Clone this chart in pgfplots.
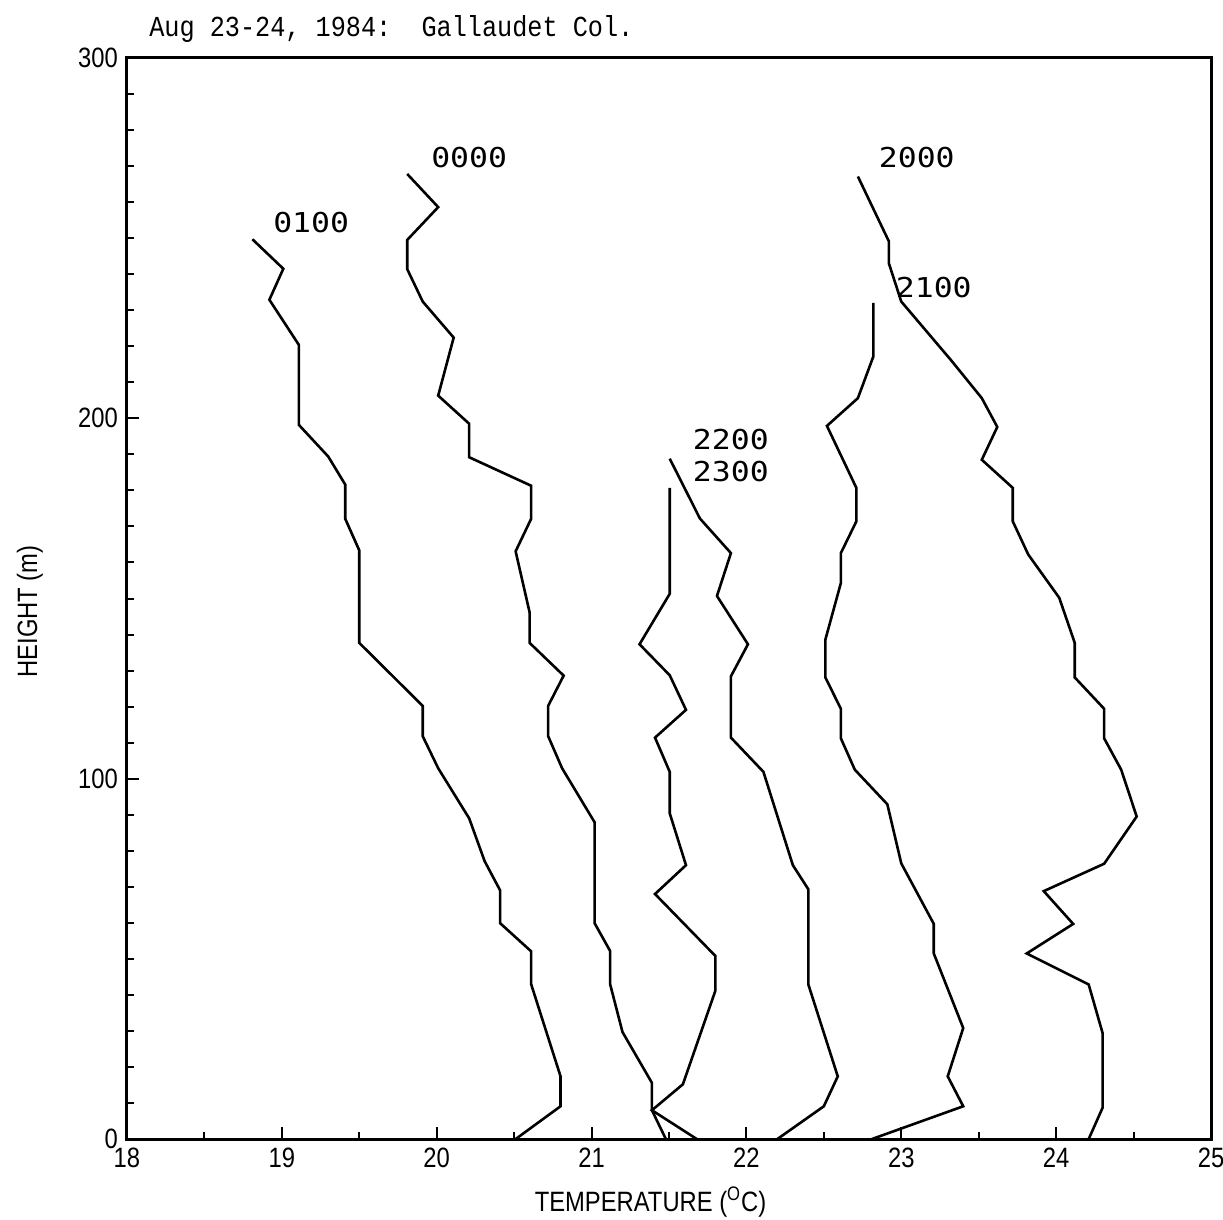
\documentclass[border=0pt]{standalone}
\usepackage{pgfplots}
\pgfplotsset{compat=1.18}
\usepackage{fontspec}
\setmainfont{Liberation Sans}
\newfontfamily\tickfont{Liberation Sans}[FakeStretch=0.85]
\newfontfamily\titlefont{Liberation Mono}[FakeStretch=0.87]
\newfontfamily\curvefont{DejaVu Sans Mono}[FakeStretch=1.15]
\begin{document}
\begin{tikzpicture}
\begin{axis}[
  scale only axis,
  width=542.5pt, height=541pt,
  xmin=18, xmax=25, ymin=0, ymax=300,
  xtick={18,19,...,25}, minor x tick num=1,
  ytick={0,100,200,300}, minor y tick num=9,
  tick pos=left, tick align=inside,
  major tick length=6pt, minor tick length=3.5pt,
  every tick/.style={black, line width=1pt},
  axis line style={line width=1.5pt},
  /pgf/number format/assume math mode=true,
  ticklabel style={font=\tickfont\fontsize{14}{16}\selectfont},
  xticklabel style={yshift=-1pt},
  yticklabel style={xshift=-1pt},
  every axis y label/.style={at={(rel axis cs:0,0.488)}, xshift=-48.5pt, rotate=90, anchor=center},
  every axis x label/.style={at={(rel axis cs:0.483,0)}, yshift=-31.5pt, anchor=center},
  xlabel={\tickfont\fontsize{14}{16}\selectfont TEMPERATURE (\textsuperscript{O}C)},
  ylabel={\tickfont\fontsize{14}{16}\selectfont HEIGHT (m)},
  clip=false,
  cycle list={{black}},
  every axis plot post/.append style={black, solid, line width=1.3pt, line join=miter, mark=none},
]
% 0100
\addplot coordinates {(18.81,249.7) (19.01,241.5) (18.92,232.9) (19.11,220.4) (19.11,198.2) (19.30,189.4) (19.41,181.6) (19.41,172.1) (19.50,163.4) (19.50,137.7) (19.91,120.2) (19.91,111.8) (20.01,102.9) (20.21,89.0) (20.31,77.1) (20.41,69.0) (20.41,59.9) (20.61,52.1) (20.61,43.0) (20.80,17.4) (20.80,9.1) (20.51,0)};
% 0000
\addplot coordinates {(19.81,267.8) (20.01,258.6) (19.81,249.5) (19.81,241.4) (19.91,232.4) (20.11,222.4) (20.01,206.3) (20.21,198.5) (20.21,189.2) (20.61,181.3) (20.61,172.1) (20.51,163.1) (20.60,146.2) (20.60,137.7) (20.82,128.6) (20.72,120.2) (20.72,111.8) (20.81,102.9) (21.02,87.9) (21.02,59.9) (21.12,52.2) (21.12,43.0) (21.20,29.7) (21.39,15.6) (21.39,8.0) (21.48,0)};
% 2000
\addplot coordinates {(22.72,267.1) (22.92,249.1) (22.92,243.0) (23.00,232.4) (23.32,216.2) (23.52,205.6) (23.62,197.6) (23.52,188.5) (23.72,180.7) (23.72,171.4) (23.82,162.2) (24.02,150.2) (24.12,137.7) (24.12,128.1) (24.31,119.4) (24.31,111.2) (24.42,102.5) (24.52,89.5) (24.31,76.4) (23.92,68.8) (24.11,59.7) (23.81,51.5) (24.21,42.9) (24.30,29.4) (24.30,8.7) (24.21,0)};
% 2100
\addplot coordinates {(22.82,232.0) (22.82,217.2) (22.72,205.6) (22.52,197.9) (22.71,180.7) (22.71,171.4) (22.61,162.6) (22.61,154.3) (22.51,138.6) (22.51,128.1) (22.61,119.4) (22.61,111.2) (22.70,102.5) (22.91,92.9) (23.00,76.5) (23.21,59.7) (23.21,51.5) (23.40,30.8) (23.30,17.4) (23.40,9.1) (22.81,0)};
% 2200
\addplot coordinates {(21.505,188.8) (21.70,172.2) (21.90,162.6) (21.81,150.7) (22.01,137.3) (21.90,128.4) (21.90,111.4) (22.11,101.9) (22.30,76.0) (22.40,69.3) (22.40,42.9) (22.59,17.4) (22.50,9.1) (22.20,0)};
% 2300
\addplot coordinates {(21.505,180.7) (21.505,151.3) (21.31,137.3) (21.505,128.7) (21.61,119.1) (21.41,111.4) (21.505,101.9) (21.505,90.4) (21.61,76.0) (21.41,68.0) (21.80,50.8) (21.80,41.2) (21.59,15.2) (21.39,8.0) (21.68,0)};

\begin{scope}[every node/.style={font=\curvefont\fontsize{13.7}{15}\selectfont, inner sep=0pt, anchor=center}]
\node at (axis cs:19.19,254.2) {0100};
\node at (axis cs:20.21,272.5) {0000};
\node at (axis cs:23.10,272.3) {2000};
\node at (axis cs:23.21,236.2) {2100};
\node at (axis cs:21.90,194.1) {2200};
\node at (axis cs:21.90,185.2) {2300};
\end{scope}
\node[anchor=base west, inner sep=0pt, font=\titlefont\fontsize{14.5}{16}\selectfont] at ([xshift=11pt, yshift=10.5pt]rel axis cs:0,1) {\frenchspacing Aug 23-24, 1984:\ \ Gallaudet Col.};
\coordinate (sw) at (rel axis cs:0,0);
\coordinate (ne) at (rel axis cs:1,1);
\end{axis}
\pgfresetboundingbox
\path[use as bounding box] ([xshift=-63.5pt,yshift=-40pt]sw) rectangle ([xshift=6pt,yshift=29pt]ne);
\end{tikzpicture}
\end{document}
